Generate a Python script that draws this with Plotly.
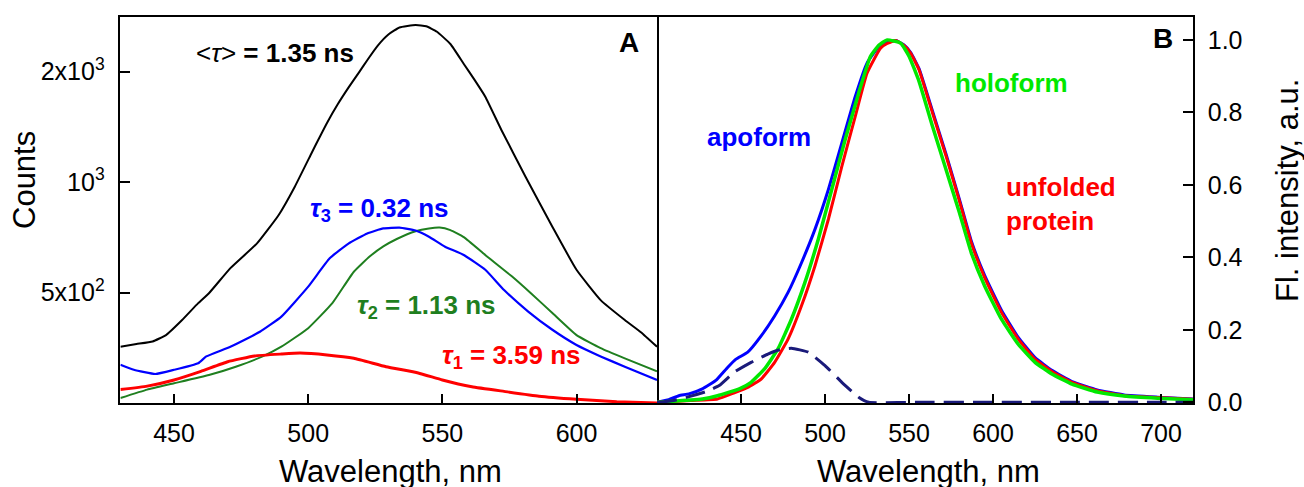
import numpy as np
import plotly.graph_objects as go

# ---------------- Panel A data (Counts, log scale) ----------------
wl_avg = [430, 436, 442, 447, 453, 459, 463, 471, 481, 489, 495, 501, 504, 507, 511, 515, 519, 522, 526, 530,
          534, 540, 544, 548, 553, 558, 562, 566, 572, 581, 591, 600, 609, 618, 624, 630]
cnt_avg = [356, 362, 368, 383, 421, 468, 498, 583, 682, 814, 972, 1190, 1315, 1450, 1630, 1810, 1995, 2150, 2360, 2530,
           2640, 2681, 2660, 2570, 2380, 2100, 1900, 1710, 1388, 1035, 756, 577, 477, 421, 390, 356]

wl_t3 = [430, 435, 443, 450, 459, 462, 471, 482, 490, 500, 508, 515, 522, 528, 534, 540, 545, 551, 558, 566,
         573, 582, 591, 600, 609, 618, 630]
cnt_t3 = [318, 308, 300, 308, 321, 335, 356, 391, 430, 519, 620, 680, 725, 748, 752, 738, 710, 667, 633, 577,
          508, 444, 396, 360, 335, 314, 289]

wl_t2 = [430, 440, 450, 463, 473, 483, 490, 500, 509, 517, 523, 528, 533, 540, 545, 549, 553, 558, 566, 576,
         583, 591, 600, 609, 618, 630]
cnt_t2 = [258, 272, 283, 298, 314, 335, 356, 400, 468, 570, 628, 668, 700, 735, 748, 752, 740, 708, 633, 553,
          498, 440, 383, 353, 331, 305]

wl_t1 = [430, 440, 450, 460, 470, 480, 490, 497, 507, 517, 529, 541, 550, 561, 573, 586, 600, 615, 630]
cnt_t1 = [272, 278, 289, 305, 324, 336, 340, 342, 338, 331, 314, 302, 289, 277, 269, 261, 256, 252, 250]

# ---------------- Panel B data (normalized intensity) ----------------
wl_holo = [400, 410, 420, 427, 436, 449, 456, 464, 472, 480, 488, 496, 504, 512, 520, 527, 532, 537, 545, 550,
           556, 564, 572, 580, 587, 595, 605, 615, 625, 635, 647, 662, 678, 698, 719]
fl_holo = [0.0, 0.003, 0.006, 0.009, 0.018, 0.037, 0.055, 0.092, 0.147, 0.229, 0.33, 0.45, 0.587, 0.725, 0.853,
           0.954, 0.985, 1.0, 0.991, 0.955, 0.885, 0.761, 0.642, 0.523, 0.413, 0.321, 0.229, 0.160, 0.110, 0.078,
           0.050, 0.028, 0.017, 0.011, 0.007]

wl_unf = [400, 410, 420, 436, 446, 454, 462, 470, 478, 486, 494, 502, 510, 518, 525, 533, 537, 542, 547, 551,
          556, 564, 572, 580, 587, 595, 605, 615, 625, 635, 647, 662, 678, 698, 719]
fl_unf = [0.0, 0.002, 0.005, 0.009, 0.026, 0.041, 0.064, 0.11, 0.174, 0.266, 0.376, 0.505, 0.651, 0.789, 0.908,
          0.977, 0.99, 0.998, 0.985, 0.963, 0.917, 0.798, 0.68, 0.555, 0.44, 0.344, 0.248, 0.174, 0.119, 0.085,
          0.055, 0.032, 0.018, 0.013, 0.008]

wl_apo = [400, 407, 413, 419, 427, 435, 442, 447, 454, 462, 470, 478, 486, 494, 502, 510, 518, 525, 533, 542,
          547, 551, 556, 564, 572, 580, 587, 595, 605, 615, 625, 635, 647, 662, 678, 698, 719]
fl_apo = [0.0, 0.007, 0.018, 0.023, 0.037, 0.06, 0.096, 0.119, 0.138, 0.183, 0.238, 0.303, 0.385, 0.477, 0.587,
          0.716, 0.844, 0.936, 0.986, 0.998, 0.986, 0.965, 0.92, 0.803, 0.685, 0.56, 0.446, 0.35, 0.254, 0.179,
          0.123, 0.088, 0.057, 0.034, 0.02, 0.014, 0.009]

wl_diff = [400, 410, 418, 429, 437, 446, 456, 466, 473, 480, 490, 500, 510, 520, 526, 560, 600, 650, 700, 719]
fl_diff = [0.0, 0.005, 0.014, 0.029, 0.046, 0.083, 0.11, 0.133, 0.145, 0.149, 0.138, 0.101, 0.055, 0.014, 0.0,
           0.0, 0.0, 0.0, 0.0, 0.0]

# tick labels
a_xticks = [450, 500, 550, 600]
a_yticks = [500, 1000, 2000]
a_yticktext = ["5x10<sup>2</sup>", "10<sup>3</sup>", "2x10<sup>3</sup>"]
b_xticks = [450, 500, 550, 600, 650, 700]
b_yticks = [0.0, 0.2, 0.4, 0.6, 0.8, 1.0]
b_yticktext = ["0.0", "0.2", "0.4", "0.6", "0.8", "1.0"]

W, H = 1304, 487
FONT = "Liberation Sans, Arial, sans-serif"

def px(x):
    return x / W

def py(y):
    return 1 - y / H

GREEN_DARK = "#1f7f1f"
GREEN_LIGHT = "#00e800"
NAVY = "#1a1a7a"

fig = go.Figure()

def spl(color, width, dash=None):
    d = dict(color=color, width=width, shape="spline", smoothing=0.4)
    if dash:
        d["dash"] = dash
    return d

# Panel A
fig.add_trace(go.Scatter(x=wl_avg, y=cnt_avg, mode="lines", line=spl("black", 2), xaxis="x", yaxis="y"))
fig.add_trace(go.Scatter(x=wl_t2, y=cnt_t2, mode="lines", line=spl(GREEN_DARK, 2), xaxis="x", yaxis="y"))
fig.add_trace(go.Scatter(x=wl_t3, y=cnt_t3, mode="lines", line=spl("#0000ff", 2.2), xaxis="x", yaxis="y"))
fig.add_trace(go.Scatter(x=wl_t1, y=cnt_t1, mode="lines", line=spl("#ff0000", 3), xaxis="x", yaxis="y"))

# Panel B
fig.add_trace(go.Scatter(x=wl_apo, y=fl_apo, mode="lines", line=spl("#0000ff", 3), xaxis="x2", yaxis="y2"))
fig.add_trace(go.Scatter(x=wl_unf, y=fl_unf, mode="lines", line=spl("#ff0000", 3), xaxis="x2", yaxis="y2"))
fig.add_trace(go.Scatter(x=wl_holo, y=fl_holo, mode="lines", line=spl(GREEN_LIGHT, 3.5), xaxis="x2", yaxis="y2"))
fig.add_trace(go.Scatter(x=wl_diff, y=fl_diff, mode="lines", line=spl(NAVY, 3, "20px,9px"), xaxis="x2", yaxis="y2"))

x_a0, x_ab, x_b1 = 120.4, 657.0, 1193.0
y_top, y_bot = 16.7, 403.3

axis_common = dict(showline=True, linecolor="black", linewidth=1.5, ticks="inside",
                   ticklen=10, tickwidth=1.5, tickcolor="black", showgrid=False, zeroline=False,
                   tickfont=dict(family=FONT, size=25, color="black"), automargin=False)

fig.update_layout(
    width=W, height=H,
    margin=dict(l=0, r=0, t=0, b=0),
    paper_bgcolor="white", plot_bgcolor="white",
    showlegend=False,
    font=dict(family=FONT, color="black"),
    xaxis=dict(domain=[px(x_a0), px(x_ab)], range=[430, 630], tickvals=a_xticks, anchor="y",
               ticklabelstandoff=7, mirror=True, **axis_common),
    yaxis=dict(domain=[py(y_bot), py(y_top)], type="log", range=[np.log10(249.6), np.log10(2825)],
               tickvals=a_yticks, ticktext=a_yticktext, anchor="x", ticklabelstandoff=9, mirror=True,
               **axis_common),
    xaxis2=dict(domain=[px(x_ab), px(x_b1)], range=[400, 719], tickvals=b_xticks, anchor="y2",
                ticklabelstandoff=7, mirror=True, **axis_common),
    yaxis2=dict(domain=[py(y_bot), py(y_top)], range=[-0.003, 1.064], tickvals=b_yticks, ticktext=b_yticktext,
                side="right", anchor="x2", ticklabelstandoff=8, mirror=False, **axis_common),
)

ann = []
def add(text, x, y, size, color="black", xanchor="center", yanchor="middle", textangle=0, align="center"):
    ann.append(dict(text=text, x=px(x), y=py(y), xref="paper", yref="paper", showarrow=False,
                    xanchor=xanchor, yanchor=yanchor, textangle=textangle, align=align,
                    font=dict(family=FONT, size=size, color=color)))

# axis titles
add("Counts", 25, 180, 31, textangle=-90)
add("Wavelength, nm", 390, 471, 31)
add("Wavelength, nm", 928, 471, 31)
add("Fl. intensity, a.u.", 1287, 191, 31, textangle=-90)

# panel A labels
add("&lt;<i>τ</i>&gt;<b> = 1.35 ns</b>", 194, 53, 26, xanchor="left")
add("<b><i>τ</i><sub>3</sub> = 0.32 ns</b>", 308, 209, 26, color="#0000ff", xanchor="left")
add("<b><i>τ</i><sub>2</sub> = 1.13 ns</b>", 355, 306, 26, color=GREEN_DARK, xanchor="left")
add("<b><i>τ</i><sub>1</sub> = 3.59 ns</b>", 440, 356, 26, color="#ff0000", xanchor="left")
add("<b>A</b>", 629, 42, 28)

# panel B labels
add("<b>B</b>", 1163, 38, 28)
add("<b>holoform</b>", 953, 83, 26, color=GREEN_LIGHT, xanchor="left")
add("<b>apoform</b>", 705, 137, 26, color="#0000ff", xanchor="left")
add("<b>unfolded<br>protein</b>", 1004, 204, 26, color="#ff0000", xanchor="left", align="left")

fig.update_layout(annotations=ann)
fig.write_html("out.html")
